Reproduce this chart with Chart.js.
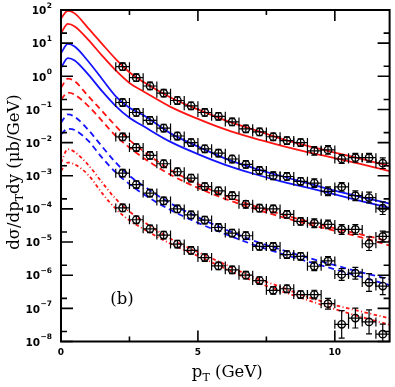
<!DOCTYPE html>
<html><head><meta charset="utf-8">
<script src="https://cdn.jsdelivr.net/npm/chart.js@4/dist/chart.umd.min.js"></script>
<style>html,body{margin:0;padding:0;background:#fff;}#wrap{width:395px;height:387px;}</style>
</head><body><div id="wrap"><canvas id="c" width="395" height="387"></canvas></div>
<script>
// ---- data ----
const binCenters = [2.25, 2.75, 3.25, 3.75, 4.25, 4.75, 5.25, 5.75, 6.25, 6.75, 7.25, 7.75, 8.25, 8.75, 9.25, 9.75, 10.25, 10.75, 11.25, 11.75];
const binHalfWidth = 0.25;

const data1 = [1.95, 0.91, 0.51, 0.31, 0.186, 0.129, 0.081, 0.062, 0.042, 0.026, 0.021, 0.015, 0.0115, 0.0100, 0.0056, 0.0060, 0.0032, 0.0035, 0.0035, 0.0024];
const data2 = [0.162, 0.081, 0.047, 0.0275, 0.0158, 0.0100, 0.0065, 0.0048, 0.0032, 0.0022, 0.00145, 0.0010, 0.00095, 0.00068, 0.0006, 0.00034, 0.00046, 0.00025, 0.00022, 0.000105];
const data3 = [0.0148, 0.0071, 0.0041, 0.0023, 0.00132, 0.00085, 0.00047, 0.00035, 0.00025, 0.000138, 0.000105, 0.0001, 6.8e-5, 4.2e-5, 3.7e-5, 3.4e-5, 2.4e-5, 2.4e-5, 8.9e-6, 1.48e-5];
const data4 = [0.0012, 0.00054, 0.0003, 0.000174, 1e-4, 6.6e-5, 4.6e-5, 2.75e-5, 1.86e-5, 1.55e-5, 7.4e-6, 7.4e-6, 4.2e-6, 3.7e-6, 1.86e-6, 2.7e-6, 1.05e-6, 1.15e-6, 6.0e-7, 4.7e-7];
const data5 = [1.07e-4, 4.7e-5, 2.5e-5, 1.62e-5, 8.7e-6, 5.6e-6, 3.4e-6, 1.9e-6, 1.45e-6, 1.0e-6, 6.9e-7, 3.5e-7, 3.9e-7, 2.6e-7, 2.6e-7, 1.38e-7, 3.3e-8, 5.1e-8, 3.9e-8, 1.66e-8];

// relative errors (drawn as y*(1+e) .. y/(1+e))
const err1 = [0.3, 0.3, 0.3, 0.3, 0.3, 0.3, 0.3, 0.3, 0.3, 0.3, 0.3, 0.3, 0.3, 0.3, 0.35, 0.35, 0.35, 0.35, 0.35, 0.45];
const err2 = [0.3, 0.3, 0.3, 0.3, 0.3, 0.3, 0.3, 0.3, 0.3, 0.3, 0.3, 0.3, 0.3, 0.3, 0.35, 0.35, 0.35, 0.4, 0.45, 0.55];
const err3 = [0.3, 0.3, 0.3, 0.3, 0.3, 0.3, 0.3, 0.3, 0.3, 0.3, 0.3, 0.3, 0.3, 0.3, 0.35, 0.35, 0.4, 0.4, 0.6, 0.45];
const err4 = [0.3, 0.3, 0.3, 0.3, 0.3, 0.3, 0.3, 0.3, 0.3, 0.3, 0.3, 0.3, 0.3, 0.3, 0.35, 0.35, 0.5, 0.5, 0.85, 0.8];
const err5 = [0.3, 0.3, 0.3, 0.3, 0.3, 0.3, 0.3, 0.3, 0.3, 0.3, 0.3, 0.3, 0.3, 0.3, 0.35, 0.45, 1.6, 1.0, 1.3, 1.0];

// theory curves
const curvePt = [0, 0.25, 0.5, 1, 1.5, 2, 2.5, 3, 4, 5, 6, 7, 8, 9, 10, 11, 12];
const redSolidHi  = [56, 95, 79, 28, 9.5, 3.3, 1.32, 0.68, 0.23, 0.1, 0.047, 0.025, 0.0135, 0.0079, 0.005, 0.0032, 0.00195];
const redSolidLo  = [20, 38, 32, 12.6, 4.2, 1.5, 0.63, 0.355, 0.12, 0.052, 0.025, 0.0138, 0.0083, 0.0052, 0.0034, 0.0022, 0.00138];
const blueSolidHi = [5.0, 9.5, 7.9, 2.8, 0.83, 0.25, 0.112, 0.068, 0.019, 0.0076, 0.0033, 0.00174, 0.001, 0.0006, 0.000355, 0.000224, 0.000145];
const blueSolidLo = [1.78, 3.55, 3.0, 1.12, 0.355, 0.126, 0.056, 0.0316, 0.0105, 0.0045, 0.00214, 0.00117, 0.00069, 0.00044, 0.000275, 0.00017, 0.000107];
const redDashHi   = [0.45, 0.85, 0.71, 0.25, 0.089, 0.0316, 0.012, 0.0056, 0.0015, 0.00056, 0.00025, 0.000126, 7.1e-5, 4.2e-5, 2.6e-5, 1.66e-5, 1.05e-5];
const redDashLo   = [0.2, 0.32, 0.28, 0.126, 0.045, 0.0158, 0.0071, 0.0035, 0.00107, 0.00043, 0.0002, 0.000105, 5.9e-5, 3.5e-5, 2.2e-5, 1.35e-5, 7.9e-6];
const blueDashHi  = [0.04, 0.071, 0.06, 0.024, 0.0076, 0.0025, 0.001, 0.0005, 0.000148, 5.6e-5, 2.4e-5, 1.12e-5, 6.0e-6, 3.4e-6, 2.0e-6, 1.2e-6, 7.6e-7];
const blueDashLo  = [0.0178, 0.026, 0.024, 0.0112, 0.0035, 0.00126, 0.00056, 0.00028, 9.3e-5, 3.8e-5, 1.74e-5, 8.5e-6, 4.6e-6, 2.6e-6, 1.5e-6, 8.7e-7, 5.0e-7];
const redDotHi    = [0.0025, 0.0063, 0.0052, 0.0021, 0.00063, 0.0002, 8.3e-5, 4.2e-5, 1.26e-5, 5.0e-6, 2.1e-6, 8.9e-7, 4.5e-7, 2.2e-7, 1.26e-7, 7.9e-8, 5.0e-8];
const redDotLo    = [0.0014, 0.0025, 0.0022, 0.00105, 0.0003, 0.0001, 4.5e-5, 2.5e-5, 8.9e-6, 3.8e-6, 1.58e-6, 6.8e-7, 3.4e-7, 1.78e-7, 9.5e-8, 5.4e-8, 3.2e-8];

const xTicks = [0, 2.5, 5, 7.5, 10];
const xTickLabels = ['0', '', '5', '', '10'];
const yDecades = [2, 1, 0, -1, -2, -3, -4, -5, -6, -7, -8];

// ---- build ----
const RED = '#ff1414', BLUE = '#1414ff';
const DASH = [6, 4], DOTDASH = [3.5, 2.5, 1, 2.5];
function curve(arr, color, dash) {
  return { type: 'line', data: curvePt.map((x, i) => ({x, y: arr[i]})), borderColor: color,
    borderWidth: 1.8, borderDash: dash, pointRadius: 0, fill: false,
    cubicInterpolationMode: 'monotone', order: 2 };
}
const seriesList = [[data1, err1], [data2, err2], [data3, err3], [data4, err4], [data5, err5]];
function points(arr) {
  return { type: 'scatter', data: binCenters.map((x, i) => ({x, y: arr[i]})), showLine: false,
    pointStyle: 'circle', pointRadius: 3.7, pointBorderWidth: 1.4, pointBorderColor: '#000',
    pointBackgroundColor: 'rgba(0,0,0,0)', order: 1 };
}

const deco = {
  id: 'deco',
  afterDatasetsDraw(chart) {
    const {ctx, chartArea: a, scales: {x, y}} = chart;
    ctx.save();
    ctx.beginPath(); ctx.rect(a.left, a.top, a.right - a.left, a.bottom - a.top); ctx.clip();
    ctx.strokeStyle = '#000'; ctx.lineWidth = 1.2; ctx.setLineDash([]);
    seriesList.forEach(([vals, errs]) => {
      vals.forEach((v, i) => {
        const cx = x.getPixelForValue(binCenters[i]);
        const cy = y.getPixelForValue(v);
        const xl = x.getPixelForValue(binCenters[i] - binHalfWidth);
        const xr = x.getPixelForValue(binCenters[i] + binHalfWidth);
        const yt = y.getPixelForValue(v * (1 + errs[i]));
        const yb = y.getPixelForValue(v / (1 + errs[i]));
        ctx.beginPath();
        ctx.moveTo(xl, cy); ctx.lineTo(xr, cy);
        ctx.moveTo(xl, cy - 4.5); ctx.lineTo(xl, cy + 4.5);
        ctx.moveTo(xr, cy - 4.5); ctx.lineTo(xr, cy + 4.5);
        ctx.moveTo(cx, yt); ctx.lineTo(cx, yb);
        ctx.moveTo(cx - 3, yt); ctx.lineTo(cx + 3, yt);
        ctx.moveTo(cx - 3, yb); ctx.lineTo(cx + 3, yb);
        ctx.stroke();
      });
    });
    ctx.restore();
  },
  afterDraw(chart) {
    const {ctx, chartArea: a, scales: {x, y}} = chart;
    ctx.save();
    ctx.strokeStyle = '#000'; ctx.fillStyle = '#000'; ctx.setLineDash([]);
    // frame
    ctx.lineWidth = 2;
    ctx.strokeRect(a.left, a.top, a.right - a.left, a.bottom - a.top);
    // x ticks (inward, top and bottom)
    ctx.lineWidth = 1.6;
    xTicks.forEach((t, i) => {
      const px = x.getPixelForValue(t);
      const len = xTickLabels[i] ? 11 : 5;
      ctx.beginPath();
      ctx.moveTo(px, a.bottom); ctx.lineTo(px, a.bottom - len);
      ctx.moveTo(px, a.top); ctx.lineTo(px, a.top + len);
      ctx.stroke();
    });
    // y ticks (decades + 2x minor)
    yDecades.forEach(d => {
      const py = y.getPixelForValue(Math.pow(10, d));
      ctx.beginPath();
      ctx.moveTo(a.left, py); ctx.lineTo(a.left + 12, py);
      ctx.moveTo(a.right, py); ctx.lineTo(a.right - 12, py);
      if (d < 2) {
        const pm = y.getPixelForValue(2 * Math.pow(10, d));
        ctx.moveTo(a.left, pm); ctx.lineTo(a.left + 6, pm);
        ctx.moveTo(a.right, pm); ctx.lineTo(a.right - 6, pm);
      }
      ctx.stroke();
    });
    // x tick labels
    ctx.font = 'bold 9px "DejaVu Sans"';
    ctx.textAlign = 'center'; ctx.textBaseline = 'middle';
    xTicks.forEach((t, i) => {
      if (xTickLabels[i]) ctx.fillText(xTickLabels[i], x.getPixelForValue(t), 353);
    });
    // y tick labels 10^n
    yDecades.forEach(d => {
      const py = y.getPixelForValue(Math.pow(10, d));
      const exp = d < 0 ? '\u2212' + (-d) : String(d);
      ctx.font = 'bold 7.5px "DejaVu Sans"';
      const ew = ctx.measureText(exp).width;
      ctx.textAlign = 'left'; ctx.textBaseline = 'middle';
      ctx.fillText(exp, 52 - ew, py - 4);
      ctx.font = 'bold 10.5px "DejaVu Sans"';
      ctx.textAlign = 'right';
      ctx.fillText('10', 52 - ew - 0.5, py + 1.5);
    });
    // titles
    function pieces(list, cx, base) {
      let w = 0;
      list.forEach(p => { ctx.font = p.f; w += ctx.measureText(p.t).width; });
      let xx = cx - w / 2;
      ctx.textAlign = 'left'; ctx.textBaseline = 'alphabetic';
      list.forEach(p => { ctx.font = p.f; ctx.fillText(p.t, xx, base + (p.dy || 0)); xx += ctx.measureText(p.t).width; });
    }
    const F = '16.5px "DejaVu Serif"', FS = '11px "DejaVu Serif"';
    pieces([{t: 'p', f: F}, {t: 'T', f: FS, dy: 4}, {t: ' (GeV)', f: F}], (a.left + a.right) / 2 + 2, 377);
    ctx.save();
    ctx.translate(19, 172);
    ctx.rotate(-Math.PI / 2);
    pieces([{t: 'd\u03c3/dp', f: F}, {t: 'T', f: FS, dy: 4}, {t: 'dy (\u03bcb/GeV)', f: F}], 0, 0);
    ctx.restore();
    ctx.font = F; ctx.textAlign = 'center'; ctx.textBaseline = 'alphabetic';
    ctx.fillText('(b)', 122, 304);
    ctx.restore();
  }
};

new Chart(document.getElementById('c'), {
  data: { datasets: [
    points(data1), points(data2), points(data3), points(data4), points(data5),
    curve(redSolidHi, RED, []), curve(redSolidLo, RED, []),
    curve(blueSolidHi, BLUE, []), curve(blueSolidLo, BLUE, []),
    curve(redDashHi, RED, DASH), curve(redDashLo, RED, DASH),
    curve(blueDashHi, BLUE, DASH), curve(blueDashLo, BLUE, DASH),
    curve(redDotHi, RED, DOTDASH), curve(redDotLo, RED, DOTDASH)
  ]},
  options: {
    responsive: false, animation: false, devicePixelRatio: 1,
    layout: { padding: { left: 0, right: 3, top: 10, bottom: 0 } },
    plugins: { legend: { display: false }, tooltip: { enabled: false } },
    scales: {
      x: { type: 'linear', min: 0, max: 12, grid: { display: false }, border: { display: false },
           ticks: { display: false }, afterFit(s) { s.height = 45.5; } },
      y: { type: 'logarithmic', min: 1e-8, max: 100, grid: { display: false }, border: { display: false },
           ticks: { display: false }, afterFit(s) { s.width = 61; } }
    }
  },
  plugins: [deco]
});
</script></body></html>
